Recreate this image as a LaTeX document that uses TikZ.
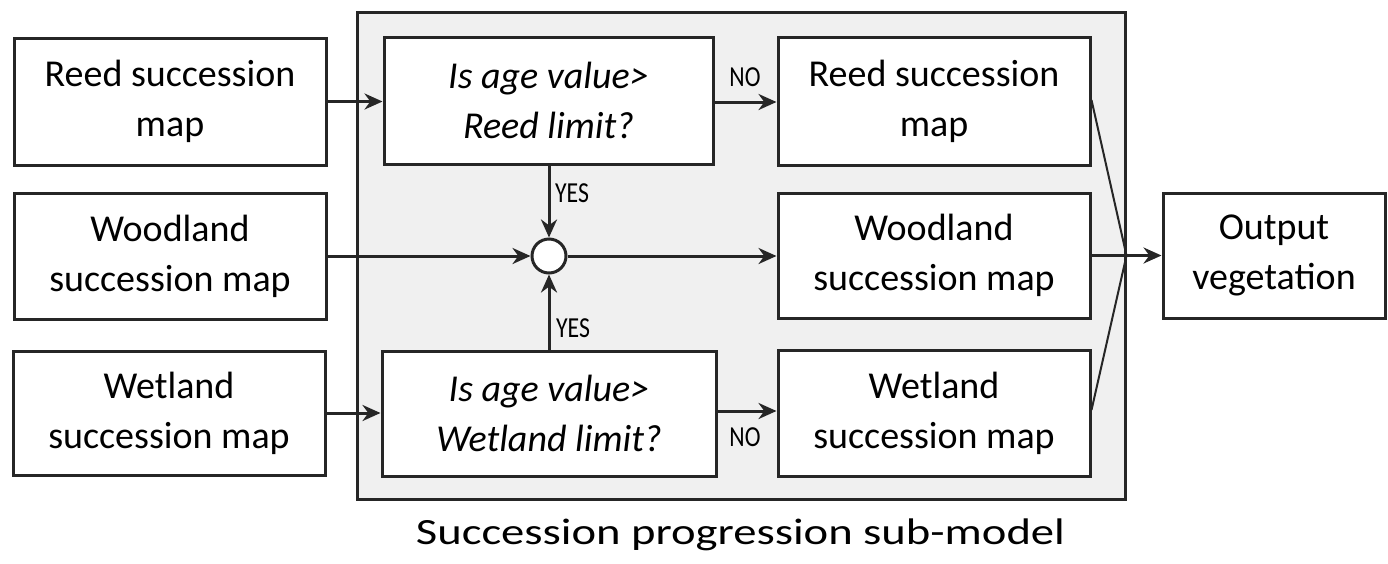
\documentclass[tikz,border=0pt]{standalone}
\usepackage{fontspec}
\setmainfont{Carlito}
\usetikzlibrary{arrows.meta}
\definecolor{ink}{HTML}{262626}
\definecolor{panel}{HTML}{F0F0F0}
\tikzset{
  box/.style={draw=ink, line width=3pt, fill=white, align=center, inner sep=0pt,
              font=\fontsize{38}{50}\selectfont},
  qbox/.style={box, font=\fontsize{38}{50}\selectfont\itshape},
  conn/.style={draw=ink, line width=3pt, -{Stealth[length=18pt,width=16pt]}},
  thin/.style={draw=ink, line width=2pt},
  lab/.style={font=\fontsize{29}{29}\selectfont, text=black, inner sep=0pt}
}
\newcommand{\narrow}[1]{\scalebox{0.82}[1]{#1}}
\begin{document}
\begin{tikzpicture}[x=1pt,y=-1pt]
\useasboundingbox (0,0) rectangle (1388,563);
% sub-model panel
\node[draw=ink, line width=3pt, fill=panel, minimum width=768pt, minimum height=487pt, inner sep=0pt] (sub) at (741,255.5) {};
% left inputs
\node[box, minimum width=312pt, minimum height=127pt] (reedin) at (170,101.5) {Reed succession\\map};
\node[box, minimum width=312pt, minimum height=126pt] (woodin) at (170,256) {Woodland\\succession map};
\node[box, minimum width=312pt, minimum height=124pt] (wetin) at (169,413) {Wetland\\succession map};
% decisions
\node[qbox, minimum width=329pt, minimum height=127pt] (dreed) at (548.5,100.5) {Is age value>\\Reed limit?};
\node[qbox, minimum width=334pt, minimum height=125pt] (dwet) at (549,413.5) {Is age value>\\Wetland limit?};
% junction circle
\node[draw=ink, line width=3pt, fill=white, circle, minimum size=34pt, inner sep=0pt] (circ) at (549,256) {};
% right outputs
\node[box, minimum width=312pt, minimum height=128pt] (reedout) at (934,101.5) {Reed succession\\map};
\node[box, minimum width=312pt, minimum height=125pt] (woodout) at (934,255.5) {Woodland\\succession map};
\node[box, minimum width=312pt, minimum height=126pt] (wetout) at (934,413) {Wetland\\succession map};
\node[box, minimum width=222pt, minimum height=125pt] (final) at (1274,255.5) {Output\\vegetation};
% connectors
\draw[conn] (reedin.east) -- (reedin.east -| dreed.west);
\draw[conn] (wetin.east) -- (wetin.east -| dwet.west);
\draw[conn] (woodin.east |- circ) -- (circ.west);
\draw[conn] (circ.east) -- (circ -| woodout.west);
\draw[conn] (dreed.south -| circ) -- (circ.north);
\draw[conn] (dwet.north -| circ) -- (circ.south);
\draw[conn] (dreed.east |- 0,102) -- (reedout.west |- 0,102);
\draw[conn] (dwet.east |- 0,411) -- (wetout.west |- 0,411);
\coordinate (J) at (sub.east |- woodout.east);
\draw[thin] (reedout.east |- 0,100) -- (J);
\draw[thin] (wetout.east |- 0,410) -- (J);
\draw[conn] (woodout.east) -- (final.west);
% labels
\node[lab] (yes1) at (572,193) {\narrow{YES}};
\node[lab] (yes2) at (573,328) {\narrow{YES}};
\node[lab] (no1) at (745,77) {\narrow{NO}};
\node[lab] (no2) at (745,437) {\narrow{NO}};
\node[font=\fontsize{37}{37}\selectfont, text=black, inner sep=0pt] (cap) at (740.5,535) {\scalebox{1.26}[1]{Succession progression sub-model}};
\end{tikzpicture}
\end{document}
